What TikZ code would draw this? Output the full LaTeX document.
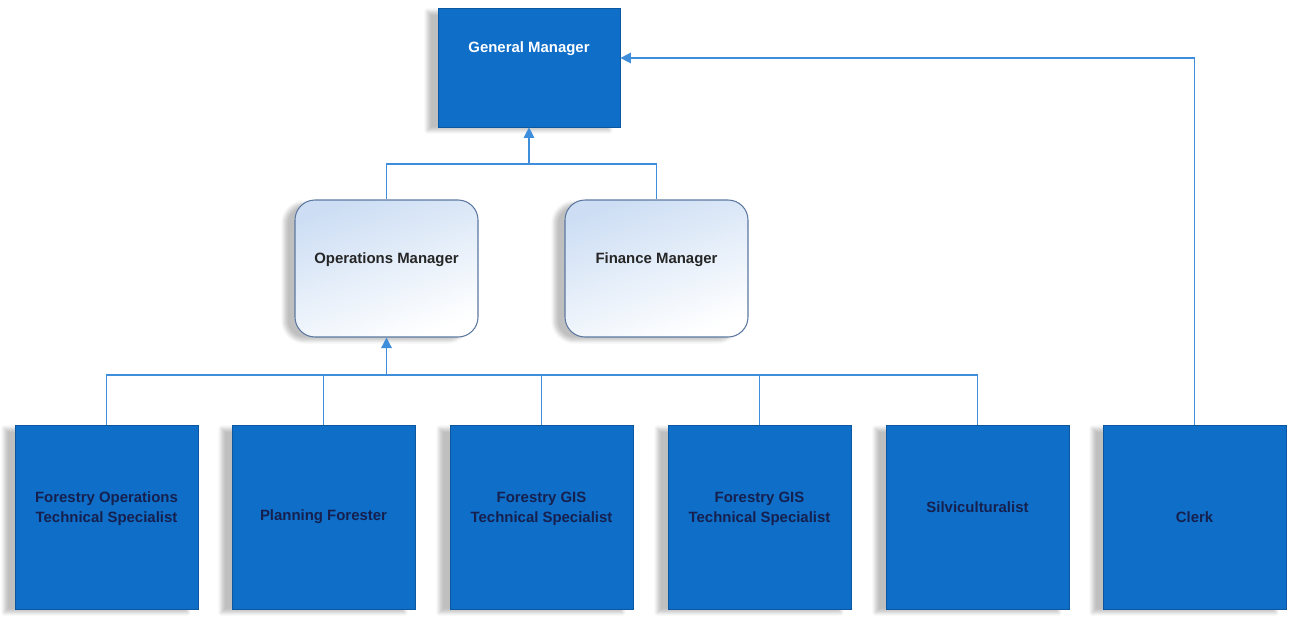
\documentclass[tikz,border=0pt]{standalone}
\usepackage{fontspec}
\setmainfont{Liberation Sans}
\usetikzlibrary{arrows.meta,shadows.blur}
\definecolor{boxblue}{RGB}{14,110,200}
\definecolor{linkblue}{RGB}{62,142,220}
\definecolor{navytext}{RGB}{22,32,78}
\definecolor{softblue}{RGB}{205,222,244}
\definecolor{edgegray}{RGB}{92,120,160}
\begin{document}
\begin{tikzpicture}[
    card/.style={draw=boxblue!80!black, line width=0.4pt, fill=boxblue, minimum width=3.66cm, minimum height=3.68cm,
      align=center, font=\fontsize{8.5}{11.4}\selectfont\bfseries, text=navytext,
      blur shadow={shadow xshift=-6pt, shadow yshift=-2pt, shadow blur steps=6, shadow opacity=25}},
    mgr/.style={draw=edgegray, line width=0.6pt, rounded corners=0.4cm, minimum width=3.66cm, minimum height=2.74cm,
      top color=softblue, bottom color=white, shading angle=20, align=center,
      font=\fontsize{8.5}{11.4}\selectfont\bfseries, text=black!85,
      blur shadow={shadow xshift=-6pt, shadow yshift=-2pt, shadow blur steps=6, shadow opacity=25}},
    link/.style={draw=linkblue, line width=0.8pt},
    arrow/.style={link, ->, >={Triangle[width=6pt,length=6pt]}}
]
\useasboundingbox (0,0) rectangle (25.9,12.34);

% Top
\node[card, minimum width=3.64cm, minimum height=2.38cm, text=white, text depth=0.8cm] (gm) at (10.58,10.99) {General Manager};

% Managers
\node[mgr, text depth=0.4cm] (om) at (7.73,6.97) {Operations Manager};
\node[mgr, text depth=0.4cm] (fm) at (13.13,6.97) {Finance Manager};

% Staff
\node[card, text depth=0.4cm] (fots) at (2.13,2.0) {Forestry Operations\\Technical Specialist};
\node[card] (pf) at (6.47,2.0) {Planning Forester};
\node[card, text depth=0.4cm] (gis1) at (10.83,2.0) {Forestry GIS\\Technical Specialist};
\node[card, text depth=0.4cm] (gis2) at (15.19,2.0) {Forestry GIS\\Technical Specialist};
\node[card, text depth=0.4cm] (silv) at (19.55,2.0) {Silviculturalist};
\node[card] (clerk) at (23.89,2.0) {Clerk};

% Junctions
\coordinate (topbus) at (10.58,9.06);
\coordinate (midbus) at (7.73,4.84);

% Managers to GM
\draw[link] (om.north) |- (topbus) -| (fm.north);
\draw[arrow] (topbus) -- (gm.south);

% Staff to Operations Manager
\draw[link] (fots.north) |- (midbus) -| (silv.north);
\foreach \n in {pf,gis1,gis2}
  \draw[link] (\n.north) -- (\n.north |- midbus);
\draw[arrow] (midbus) -- (om.south);

% Clerk to GM
\draw[arrow] (clerk.north) |- ([yshift=0.19cm]gm.east);
\end{tikzpicture}
\end{document}
